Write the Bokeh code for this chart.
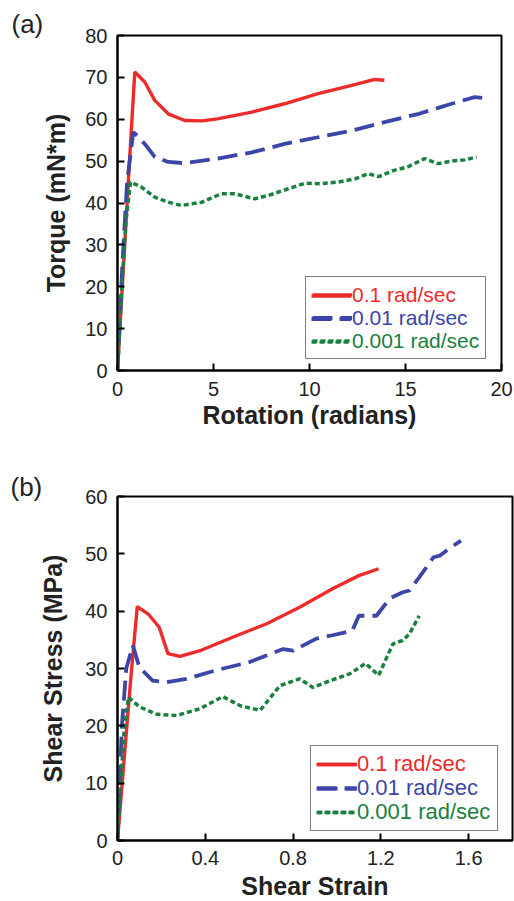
from bokeh.plotting import figure
from bokeh.models import Range1d, FixedTicker, Legend, LegendItem
from bokeh.layouts import column
from bokeh.embed import file_html
from bokeh.resources import INLINE

# ---------------- data (panel a: torque vs rotation) ----------------
a_x_fast = [0, 0.3, 0.6, 0.9, 1.42, 1.94, 2.64, 3.5, 4.4, 5.2, 7.0, 8.7, 10.45, 12.2, 13.4, 13.9]
a_y_fast = [0, 24, 48, 71.3, 68.9, 64.5, 61.3, 59.7, 59.6, 60.1, 61.7, 63.7, 66.1, 68.1, 69.5, 69.3]

a_x_mid = [0, 0.25, 0.5, 0.82, 1.1, 1.42, 1.94, 2.64, 3.5, 5.2, 7.0, 8.7, 10.45, 12.2, 13.9, 15.7, 17.4, 18.6, 19.4]
a_y_mid = [0, 25, 45, 56.9, 55.8, 54.1, 51.0, 49.8, 49.5, 50.6, 52.1, 54.1, 55.7, 57.3, 59.3, 61.3, 63.7, 65.3, 64.9]

a_x_slow = [0, 0.2, 0.45, 0.68, 1.25, 1.94, 2.64, 3.33, 4.4, 5.4, 6.1, 7.15, 7.85, 8.9, 9.75, 10.6, 11.5,
            12.4, 13.05, 13.6, 14.4, 15.1, 16.0, 16.7, 17.4, 18.1, 18.7]
a_y_slow = [0, 18, 36, 45.0, 43.8, 41.4, 40.2, 39.4, 40.2, 42.2, 42.2, 41.0, 41.8, 43.4, 44.7, 44.6, 45.0,
            45.8, 47.0, 46.3, 47.8, 48.6, 50.6, 49.4, 50.0, 50.3, 51.0]

# ---------------- data (panel b: shear stress vs shear strain) ----------------
b_x_fast = [0, 0.03, 0.06, 0.09, 0.14, 0.19, 0.23, 0.285, 0.376, 0.527, 0.68, 0.83, 0.98, 1.10, 1.19]
b_y_fast = [0, 14, 28, 40.8, 39.5, 37.2, 32.6, 32.1, 33.1, 35.5, 37.8, 40.7, 43.9, 46.2, 47.4]

b_x_mid = [0, 0.02, 0.04, 0.07, 0.10, 0.16, 0.22, 0.315, 0.45, 0.60, 0.755, 0.80, 0.906, 0.98, 1.07, 1.10,
           1.18, 1.24, 1.30, 1.33, 1.375, 1.44, 1.47, 1.50, 1.565]
b_y_mid = [0, 20, 30, 34.0, 30.2, 27.9, 27.6, 28.2, 29.7, 31.1, 33.4, 33.1, 35.2, 35.8, 36.6, 39.2,
           39.2, 42.2, 43.3, 43.6, 45.9, 49.4, 49.7, 50.6, 52.3]

b_x_slow = [0, 0.015, 0.03, 0.05, 0.10, 0.18, 0.27, 0.376, 0.48, 0.56, 0.65, 0.74, 0.83, 0.89, 0.95, 1.06,
            1.13, 1.19, 1.255, 1.30, 1.33, 1.375]
b_y_slow = [0, 10, 19, 25.0, 23.3, 22.0, 21.8, 23.0, 25.1, 23.5, 22.7, 27.0, 28.2, 26.7, 27.6, 29.1,
            30.9, 28.8, 34.3, 34.9, 36.0, 39.2]

labels = ["0.1 rad/sec", "0.01 rad/sec", "0.001 rad/sec"]
a_xticks = [0, 5, 10, 15, 20]
a_yticks = [0, 10, 20, 30, 40, 50, 60, 70, 80]
b_xticks = [0, 0.4, 0.8, 1.2, 1.6]
b_yticks = [0, 10, 20, 30, 40, 50, 60]

RED = "#ec2b2b"
BLUE = "#3b46a8"
GREEN = "#1a8040"
FONT = "Liberation Sans"
INK = "#222222"


def make_panel(xs, ys, xr, yr, xticks, yticks, xlabel, ylabel, tag,
               fw, fh, bl, br, bt, bb, leg, axis_font, xstand, ystand, xl_overrides=None):
    p = figure(frame_width=fw, frame_height=fh, min_border_left=bl, min_border_right=br,
               min_border_top=bt, min_border_bottom=bb,
               x_range=Range1d(*xr), y_range=Range1d(*yr),
               output_backend="svg", toolbar_location=None)
    p.xgrid.visible = False
    p.ygrid.visible = False
    p.outline_line_color = "black"
    p.outline_line_width = 2
    p.outline_line_alpha = 1
    p.background_fill_color = "white"
    p.border_fill_color = "white"

    # panel tag "(a)" / "(b)" drawn as the plot title, shifted to the left edge
    p.title.text = tag[0]
    p.title.align = "left"
    p.title.offset = tag[1]
    p.title.standoff = tag[2]
    p.title.text_font = FONT
    p.title.text_font_size = "26px"
    p.title.text_font_style = "normal"
    p.title.text_color = INK

    p.xaxis.ticker = FixedTicker(ticks=xticks)
    p.yaxis.ticker = FixedTicker(ticks=yticks)
    if xl_overrides:
        p.xaxis.major_label_overrides = xl_overrides
    for ax in (p.xaxis[0], p.yaxis[0]):
        ax.axis_line_color = "black"
        ax.axis_line_width = 2
        ax.major_tick_in = 7
        ax.major_tick_out = 0
        ax.major_tick_line_width = 2
        ax.major_tick_line_color = "black"
        ax.minor_tick_line_color = None
        ax.major_label_text_font = FONT
        ax.major_label_text_font_size = "20px"
        ax.major_label_text_color = INK
        ax.axis_label_text_font = FONT
        ax.axis_label_text_font_size = axis_font
        ax.axis_label_text_font_style = "bold"
        ax.axis_label_text_color = INK
    p.xaxis.axis_label = xlabel
    p.yaxis.axis_label = ylabel
    p.xaxis.major_label_standoff = xstand[0]
    p.xaxis.axis_label_standoff = xstand[1]
    p.yaxis.major_label_standoff = ystand[0]
    p.yaxis.axis_label_standoff = ystand[1]

    r1 = p.line(xs[0], ys[0], line_color=RED, line_width=3.4)
    r2 = p.line(xs[1], ys[1], line_color=BLUE, line_width=3.8, line_dash="20 8")
    r3 = p.line(xs[2], ys[2], line_color=GREEN, line_width=3.5, line_dash="5 3")
    rends = [r1, r2, r3]
    colors = [RED, BLUE, GREEN]

    leg_x, leg_y, row_h, lfont, lwidth = leg
    pad = 6
    common = dict(padding=pad, spacing=0, margin=0, glyph_width=40, glyph_height=row_h,
                  label_height=row_h, label_standoff=1, label_text_font=FONT,
                  label_text_font_size=lfont)
    box = Legend(items=[LegendItem(label=" ", renderers=[r]) for r in rends],
                 location=(leg_x, leg_y), border_line_color="black", border_line_width=1.5,
                 background_fill_color="white", background_fill_alpha=1,
                 label_width=lwidth, **common)
    p.add_layout(box)
    for i, (l, r, c) in enumerate(zip(labels, rends, colors)):
        lg = Legend(items=[LegendItem(label=l, renderers=[r])],
                    location=(leg_x, leg_y + (2 - i) * row_h),
                    border_line_alpha=0, background_fill_alpha=0,
                    label_text_color=c, **common)
        p.add_layout(lg)
    return p


pa = make_panel([a_x_fast, a_x_mid, a_x_slow], [a_y_fast, a_y_mid, a_y_slow],
                (0, 20), (0, 80), a_xticks, a_yticks,
                "Rotation (radians)", "Torque (mN*m)", ("(a)", -106, -7),
                384, 335, 116, 14, 35, 70, (188, 11, 23, "21px", 126), "25px",
                (11, 2), (10, 12))
pb = make_panel([b_x_fast, b_x_mid, b_x_slow], [b_y_fast, b_y_mid, b_y_slow],
                (0, 1.8), (0, 60), b_xticks, b_yticks,
                "Shear Strain", "Shear Stress (MPa)", ("(b)", -107, -10),
                395, 344, 117, 2, 56, 61, (193, 9, 24, "22px", 133), "25px",
                (10, 4), (10, 15), xl_overrides={0: "0"})

layout = column(pa, pb, spacing=0)
open("out.html", "w").write(file_html(layout, INLINE))
